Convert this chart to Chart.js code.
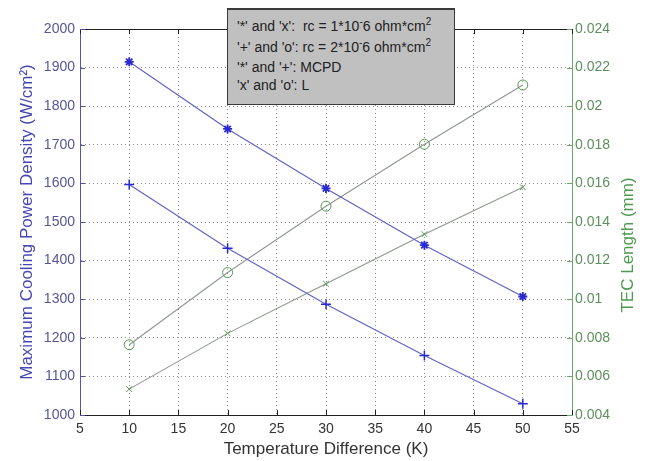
<!DOCTYPE html>
<html>
<head>
<meta charset="utf-8">
<script src="https://cdn.jsdelivr.net/npm/chart.js@4.4.1/dist/chart.umd.min.js"></script>
<style>
  body { margin: 0; background: #fff; }
  #wrap { position: relative; width: 654px; height: 461px; }
  #note {
    position: absolute; left: 227px; top: 8px; width: 228px; height: 97px;
    box-sizing: border-box; background: #c0c0c0;
    border: 1px solid #3a3a3a; border-top-width: 2px;
    padding: 8px 0 0 9px;
    font: 14px "Liberation Sans", Arial, sans-serif; color: #222;
  }
  #note div { white-space: pre; }
  #note sup { font-size: 10px; line-height: 0; vertical-align: 6px; }
</style>
</head>
<body>
<div id="wrap">
  <canvas id="chart" width="654" height="461"></canvas>
  <div id="note">
    <div style="height:21px">'*' and 'x':  rc = 1*10<sup>-</sup>6 ohm*cm<sup>2</sup></div>
    <div style="height:20px">'+' and 'o': rc = 2*10<sup>-</sup>6 ohm*cm<sup>2</sup></div>
    <div style="height:18px">'*' and '+': MCPD</div>
    <div style="height:18px">'x' and 'o': L</div>
  </div>
</div>
<script>
// --- Data ---
const tempDiff = [10, 20, 30, 40, 50];
const xTicks = [5, 10, 15, 20, 25, 30, 35, 40, 45, 50, 55];
const mcpdRc1 = [1915, 1741, 1587, 1440, 1307];   // '*'  rc = 1e-6
const mcpdRc2 = [1597, 1432, 1287, 1154, 1029];   // '+'  rc = 2e-6
const lenRc1 = [0.00534, 0.00823, 0.0108, 0.01337, 0.0158];  // 'x'
const lenRc2 = [0.00764, 0.01138, 0.01482, 0.01803, 0.0211]; // 'o'

const FONT = '"Liberation Sans", Arial, sans-serif';
const BLUE_LINE = '#6262c6';
const BLUE_MARK = '#2a2ad2';
const GRAY_LINE = '#8f968f';
const GREEN_MARK = '#4f9a4f';

const pts = (ys) => tempDiff.map((t, i) => ({ x: t, y: ys[i] }));

// frame: top border, inward tick marks, right-hand title
const framePlugin = {
    id: 'frame',
    afterDraw(chart) {
        const { ctx, chartArea: a, scales } = chart;
        ctx.save();
        ctx.lineWidth = 1;
        ctx.strokeStyle = '#222';
        ctx.beginPath();
        ctx.moveTo(a.left, a.top + 0.5);
        ctx.lineTo(a.right, a.top + 0.5);
        ctx.stroke();

        const len = 5;
        ctx.beginPath();
        scales.x.ticks.forEach(t => {
            const px = Math.round(scales.x.getPixelForValue(t.value)) + 0.5;
            ctx.moveTo(px, a.bottom); ctx.lineTo(px, a.bottom - len);
            ctx.moveTo(px, a.top); ctx.lineTo(px, a.top + len);
        });
        ctx.stroke();

        ctx.strokeStyle = '#5555aa';
        ctx.beginPath();
        scales.y.ticks.forEach(t => {
            const py = Math.round(scales.y.getPixelForValue(t.value)) + 0.5;
            ctx.moveTo(a.left, py); ctx.lineTo(a.left + len, py);
        });
        ctx.stroke();

        ctx.strokeStyle = '#6aa86a';
        ctx.beginPath();
        scales.y1.ticks.forEach(t => {
            const py = Math.round(scales.y1.getPixelForValue(t.value)) + 0.5;
            ctx.moveTo(a.right, py); ctx.lineTo(a.right - len, py);
        });
        ctx.stroke();

        // right axis title reads bottom-to-top like the left one
        ctx.translate(scales.y1.right - 26, (a.top + a.bottom) / 2 + 23);
        ctx.rotate(-Math.PI / 2);
        ctx.fillStyle = '#4f9a4f';
        ctx.font = '17px ' + FONT;
        ctx.textAlign = 'center';
        ctx.textBaseline = 'middle';
        ctx.fillText('TEC Length (mm)', 0, 0);
        ctx.restore();
    }
};

const dotted = { color: '#8e8e8e', lineWidth: 1 };

new Chart(document.getElementById('chart'), {
    type: 'line',
    data: {
        datasets: [
            {
                label: 'MCPD rc=1e-6', data: pts(mcpdRc1), yAxisID: 'y',
                borderColor: BLUE_LINE, borderWidth: 1.2,
                pointStyle: 'star', pointRadius: 4.5, pointBorderColor: BLUE_MARK, pointBorderWidth: 1.8
            },
            {
                label: 'MCPD rc=2e-6', data: pts(mcpdRc2), yAxisID: 'y',
                borderColor: BLUE_LINE, borderWidth: 1.2,
                pointStyle: 'cross', pointRadius: 5, pointBorderColor: BLUE_MARK, pointBorderWidth: 1.5
            },
            {
                label: 'L rc=1e-6', data: pts(lenRc1), yAxisID: 'y1',
                borderColor: GRAY_LINE, borderWidth: 1.1,
                pointStyle: 'crossRot', pointRadius: 4, pointBorderColor: GREEN_MARK, pointBorderWidth: 1
            },
            {
                label: 'L rc=2e-6', data: pts(lenRc2), yAxisID: 'y1',
                borderColor: GRAY_LINE, borderWidth: 1.1,
                pointStyle: 'circle', pointRadius: 5, pointBackgroundColor: 'rgba(0,0,0,0)',
                pointBorderColor: GREEN_MARK, pointBorderWidth: 1
            }
        ]
    },
    options: {
        responsive: false,
        animation: false,
        devicePixelRatio: 1,
        layout: { padding: { top: 29, left: 0, right: 0, bottom: 0 } },
        plugins: { legend: { display: false }, tooltip: { enabled: false } },
        scales: {
            x: {
                type: 'linear', min: 5, max: 55,
                afterBuildTicks: s => { s.ticks = xTicks.map(v => ({ value: v })); },
                afterFit: s => { s.height = 46; },
                ticks: { color: '#333', font: { family: FONT, size: 14 }, padding: 6 },
                grid: { ...dotted, drawTicks: false },
                border: { color: '#222', width: 1, dash: [1, 3] },
                title: {
                    display: true, text: 'Temperature Difference (K)', color: '#333',
                    font: { family: FONT, size: 17 }, padding: { top: 0, bottom: 1 }
                }
            },
            y: {
                position: 'left', min: 1000, max: 2000,
                afterFit: s => { s.width = 80; },
                ticks: {
                    stepSize: 100, color: '#55559a', font: { family: FONT, size: 14 }, padding: 5,
                    callback: v => String(v)
                },
                grid: { ...dotted, drawTicks: false },
                border: { color: '#5555aa', width: 1, dash: [1, 3] },
                title: {
                    display: true, text: 'Maximum Cooling Power Density (W/cm²)', color: '#4646b4',
                    font: { family: FONT, size: 17 }, padding: { top: 17, bottom: 0 }
                }
            },
            y1: {
                position: 'right', min: 0.004, max: 0.024,
                afterFit: s => { s.width = 82; },
                ticks: {
                    stepSize: 0.002, color: '#5d8f5d', font: { family: FONT, size: 14 }, padding: 3,
                    callback: v => String(parseFloat(v.toFixed(3)))
                },
                grid: { drawOnChartArea: false, drawTicks: false },
                border: { color: '#6aa86a', width: 1 }
            }
        }
    },
    plugins: [framePlugin]
});
</script>
</body>
</html>
